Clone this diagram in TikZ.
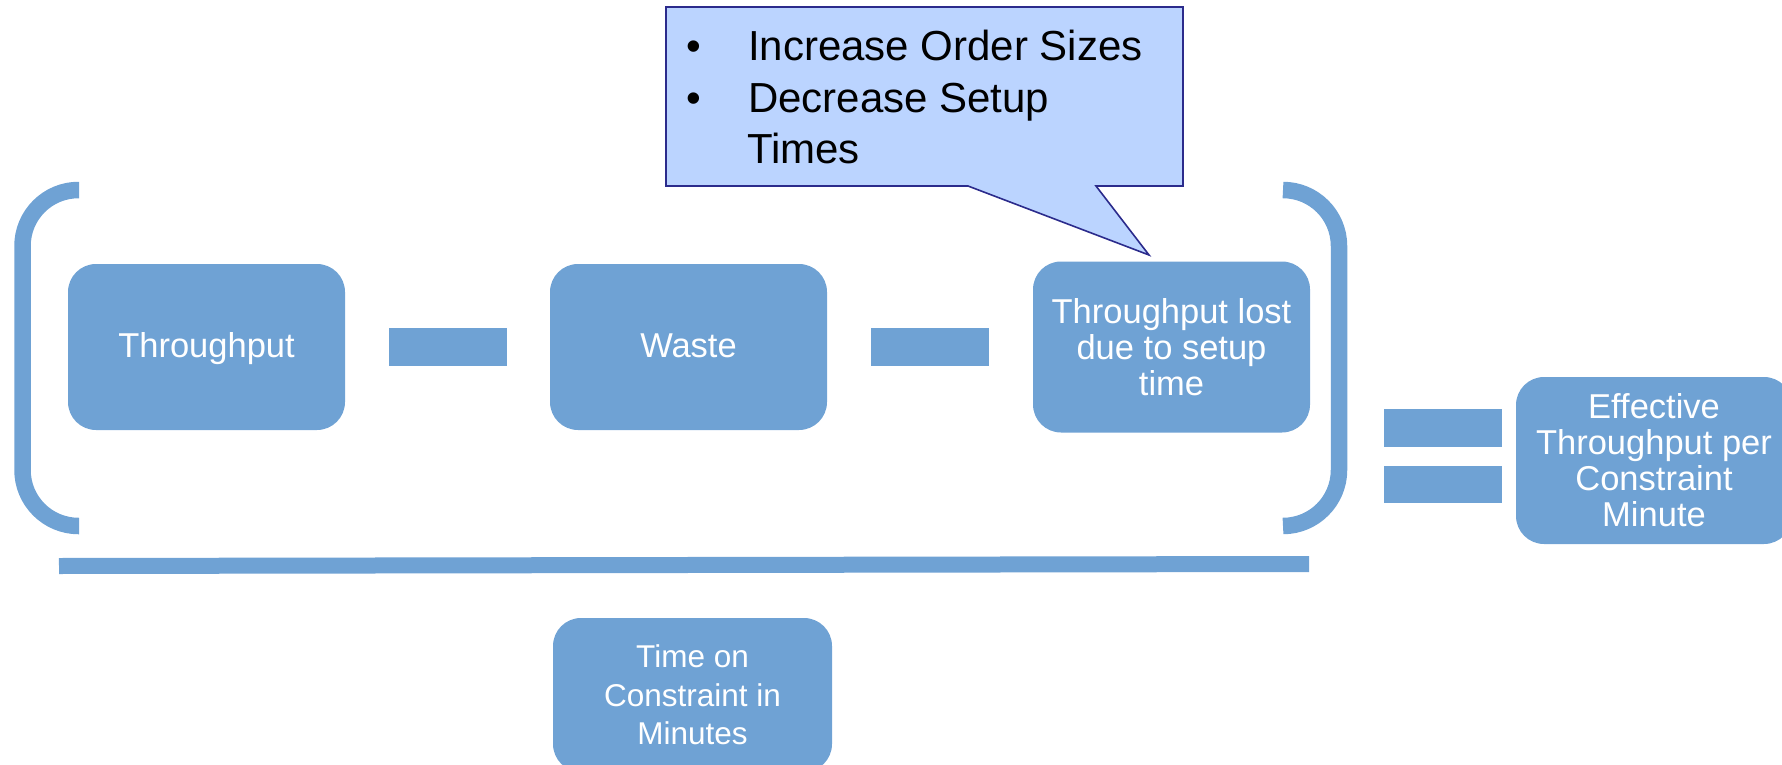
\documentclass[tikz,border=0pt]{standalone}
\usepackage{fontspec}
\setmainfont{Liberation Sans}
\definecolor{boxblue}{RGB}{111,162,212}
\definecolor{calloutfill}{RGB}{187,212,255}
\definecolor{calloutline}{RGB}{43,43,140}
\tikzset{
  termbox/.style={fill=boxblue, rounded corners=28pt, text=white, align=center,
    inner sep=0pt, minimum width=277pt, minimum height=166pt,
    font=\fontsize{34.5}{36}\selectfont},
  opbar/.style={fill=boxblue, inner sep=0pt, minimum width=118pt, minimum height=38pt},
  brace/.style={draw=boxblue, line width=16.5pt, rounded corners=56pt},
  tipline/.style={anchor=base west, inner sep=0pt, font=\fontsize{42}{51.5}\selectfont},
}
\begin{document}
\begin{tikzpicture}[x=1pt,y=-1pt]
\useasboundingbox (0,0) rectangle (1782,765);
\clip (0,0) rectangle (1782,765);

% numerator terms
\node[termbox, text height=25pt, text depth=5pt] (tp) at (206.5,347) {Throughput};
\node[opbar] (minusA) at (447.5,347) {};
\node[termbox, text height=25pt, text depth=5pt] (waste) at (688.5,347) {Waste};
\node[opbar] (minusB) at (930,347) {};
\node[termbox, minimum height=171pt] (lost) at (1171.5,347) {Throughput lost\\due to setup\\time};

% parentheses around the numerator
\draw[brace] (79,190) -- (22.5,190) -- (22.5,526) -- (79,526);
\draw[brace] (1283,190) -- (1339,190) -- (1339,526) -- (1283,526);

% fraction bar
\coordinate (barL) at (59,566);
\coordinate (barR) at (1309,564);
\draw[draw=boxblue, line width=16pt] (barL) -- (barR);

% denominator
\node[termbox, minimum width=279pt, minimum height=154pt,
      font=\fontsize{31.5}{38.5}\selectfont] (time) at (692.5,695)
      {Time on\\Constraint in\\Minutes};

% equals sign and result
\node[opbar] (eqTop) at (1443,428) {};
\node[opbar, minimum height=37pt] (eqBot) at (1443,484.5) {};
\node[termbox, minimum width=276pt, minimum height=167pt] (result) at (1654,460.5)
      {Effective\\Throughput per\\Constraint\\Minute};

% callout with suggestions
\coordinate (tip) at (1149,255);
\draw[fill=calloutfill, draw=calloutline, line width=1.6pt, line join=miter]
  (666,7) -- (1183,7) -- (1183,186) -- (1096,186) -- (tip) -- (968,186)
  -- (666,186) -- cycle;
\node[tipline] (tipA) at (686,61) {\makebox[62pt][l]{\textbullet}Increase Order Sizes};
\node[tipline] (tipB) at (686,112.5) {\makebox[62pt][l]{\textbullet}Decrease Setup};
\node[tipline] (tipC) at (747,164) {Times};
\end{tikzpicture}
\end{document}
